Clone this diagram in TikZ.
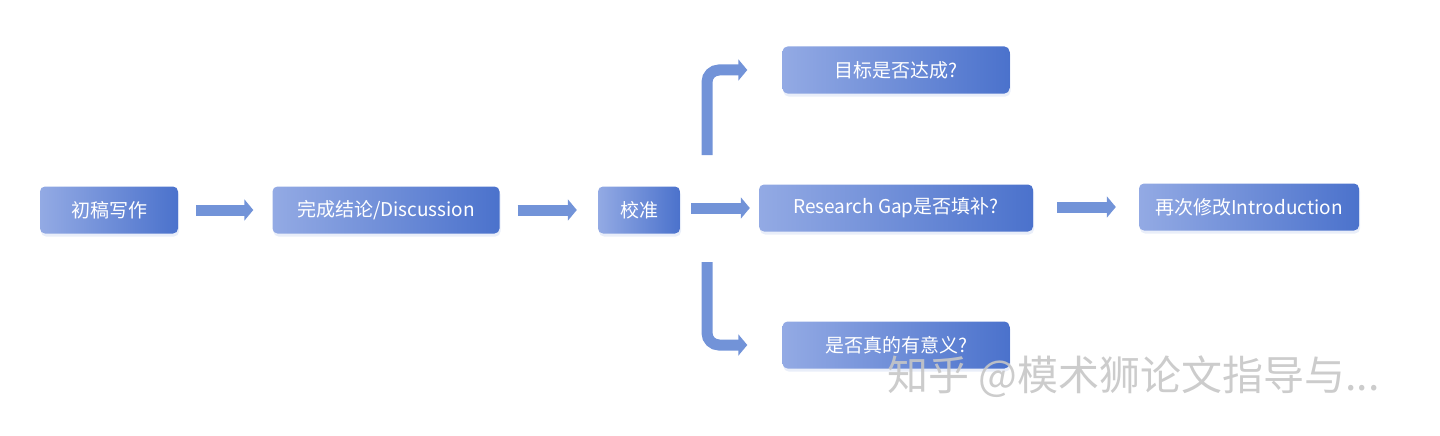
\documentclass[tikz,border=0pt]{standalone}
\usepackage{fontspec}
\setmainfont{Noto Sans CJK SC}
\usetikzlibrary{arrows.meta,shadows}
\begin{document}
\begin{tikzpicture}[x=1pt,y=-1pt,
  box/.style={rounded corners=5pt, minimum height=47pt, text=white, font=\fontsize{19}{22}\selectfont,
    left color=c1, right color=c2,
    drop shadow={shadow xshift=1pt,shadow yshift=-3pt,fill=c1!40,opacity=0.5}},
  arr/.style={line width=11pt, draw=c3, -{Triangle[length=9pt,width=21pt]}, rounded corners=12pt}]
\definecolor{c1}{HTML}{93AAE4}
\definecolor{c2}{HTML}{4B72CC}
\definecolor{c3}{HTML}{7293D8}
\useasboundingbox (0,0) rectangle (1440,436);
\node[box, minimum width=138pt] (A) at (109,210) {初稿写作};
\node[box, minimum width=227pt] (B) at (386,210) {完成结论/Discussion};
\node[box, minimum width=82pt] (C) at (639,210) {校准};
\node[box, minimum width=274pt] (D) at (896,208) {Research Gap是否填补?};
\node[box, minimum width=220pt] (E) at (1249,207) {再次修改Introduction};
\node[box, minimum width=227pt] (F) at (896,70) {目标是否达成?};
\node[box, minimum width=227pt] (G) at (896,345) {是否真的有意义?};
\coordinate (u0) at (707,155);
\coordinate (u1) at (707,70);
\coordinate (d0) at (707,262);
\coordinate (d1) at (707,345);
\draw[arr] ([xshift=18pt]A.east) -- ([xshift=-19pt]B.west);
\draw[arr] ([xshift=18pt]B.east) -- ([xshift=-21pt]C.west);
\draw[arr] ([xshift=11pt]C.east |- D.west) -- ([xshift=-9pt]D.west);
\draw[arr] ([xshift=24pt]D.east |- E.west) -- ([xshift=-23pt]E.west);
\draw[arr] (u0) -- (u1) -- ([xshift=-35pt]F.west);
\draw[arr] (d0) -- (d1) -- ([xshift=-35pt]G.west);
\node[text=white!55!gray, opacity=0.9, font=\fontsize{41}{44}\selectfont, anchor=west] (W) at (884,377) {知乎 @模术狮论文指导与...};
\end{tikzpicture}
\end{document}
